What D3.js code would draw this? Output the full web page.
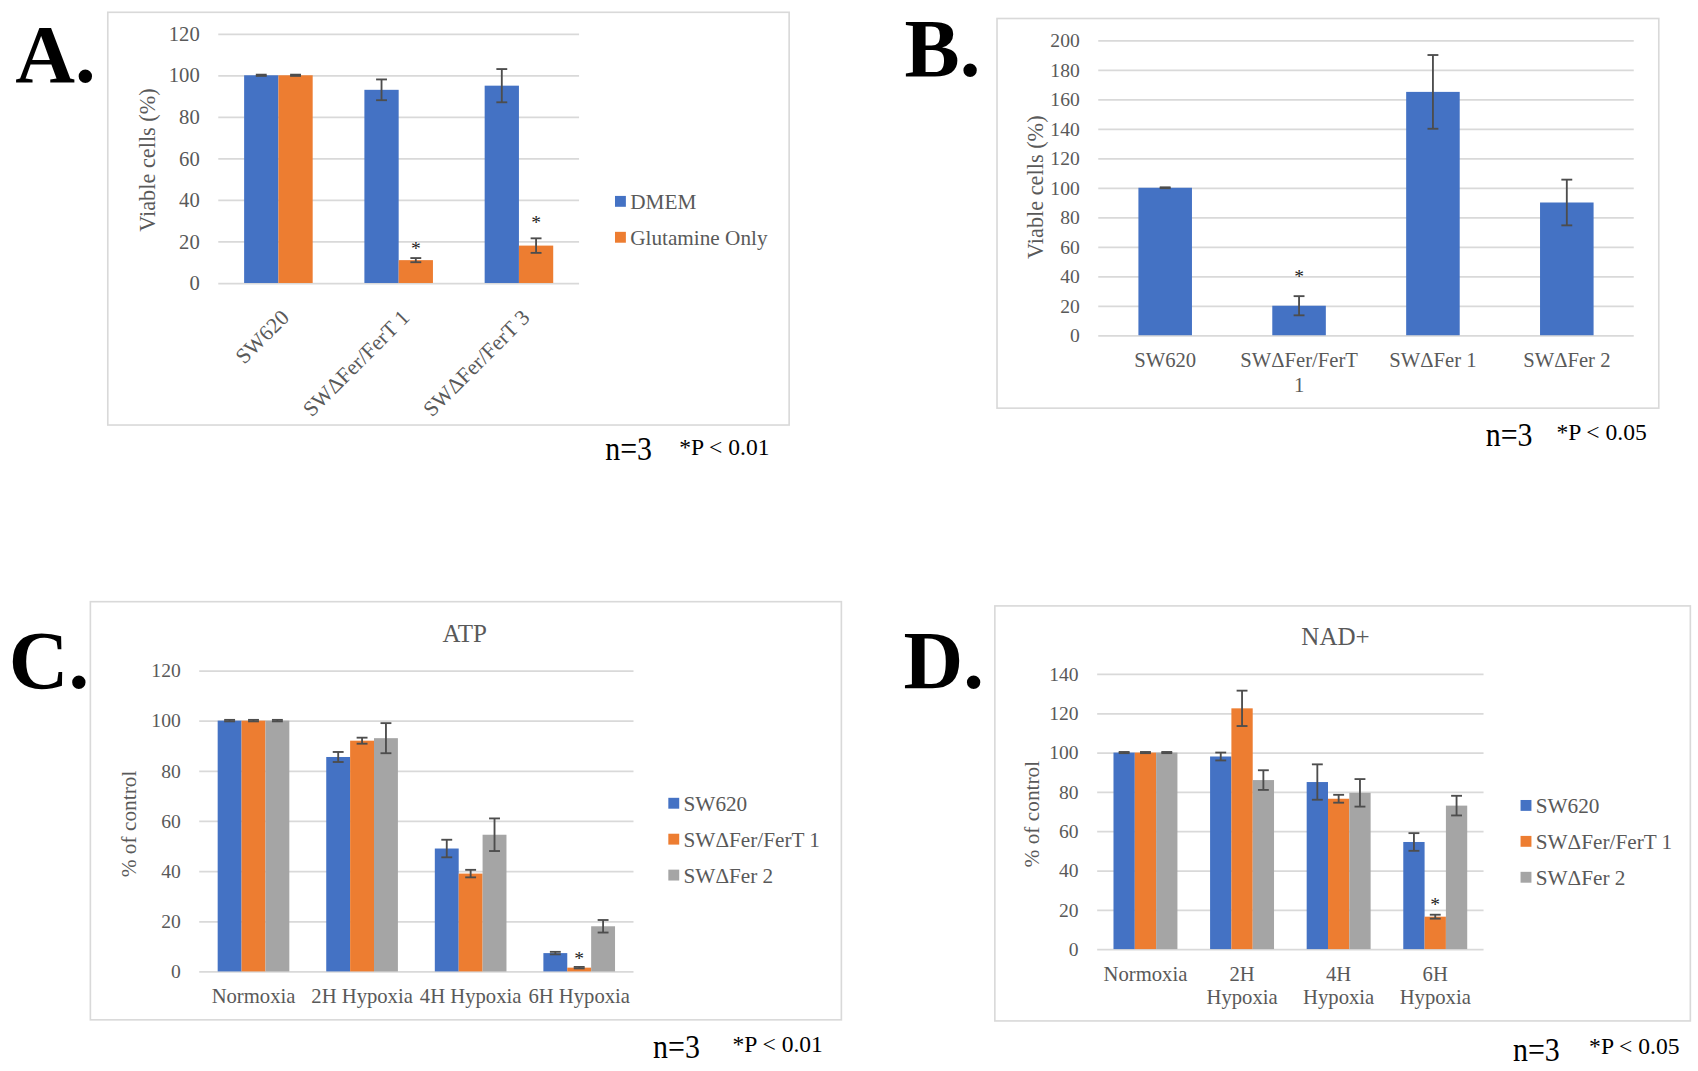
<!DOCTYPE html>
<html>
<head>
<meta charset="utf-8">
<script src="https://cdn.jsdelivr.net/npm/d3@7"></script>
<style>
  body { margin: 0; background: #fff; }
  text { font-family: "Liberation Serif", "Times New Roman", serif; }
</style>
</head>
<body>
<div id="fig"></div>
<script>
// ---- data ----
var catsA = ["SW620", "SW\u0394Fer/FerT 1", "SW\u0394Fer/FerT 3"];
var seriesA = ["DMEM", "Glutamine Only"];
var dmemA = [100, 93, 95];
var dmemErrA = [0.3, 5, 8];
var glnA = [100, 11, 18];
var glnErrA = [0.3, 1, 3.5];
var ticksA = [0, 20, 40, 60, 80, 100, 120];

var catsB = ["SW620", "SW\u0394Fer/FerT 1", "SW\u0394Fer 1", "SW\u0394Fer 2"];
var valsB = [100, 20, 165, 90];
var errB = [0.3, 6.5, 25, 15.5];
var ticksB = [0, 20, 40, 60, 80, 100, 120, 140, 160, 180, 200];

var catsCD = ["Normoxia", "2H Hypoxia", "4H Hypoxia", "6H Hypoxia"];
var seriesCD = ["SW620", "SW\u0394Fer/FerT 1", "SW\u0394Fer 2"];
var atpSW = [100, 85.5, 49, 7.3];
var atpSWErr = [0.3, 2, 3.5, 0.5];
var atpFerT = [100, 92, 39, 1.5];
var atpFerTErr = [0.3, 1.2, 1.5, 0.3];
var atpFer2 = [100, 93, 54.5, 18];
var atpFer2Err = [0.3, 6, 6.5, 2.5];
var ticksC = [0, 20, 40, 60, 80, 100, 120];

var nadSW = [100, 98, 85, 54.5];
var nadSWErr = [0.3, 2, 9, 4.5];
var nadFerT = [100, 122.5, 76.5, 16.5];
var nadFerTErr = [0.3, 9, 2, 1];
var nadFer2 = [100, 86, 79.5, 73];
var nadFer2Err = [0.3, 5, 7, 5];
var ticksD = [0, 20, 40, 60, 80, 100, 120, 140];

var colors = ["#4472C4", "#ED7D31", "#A5A5A5"];
var grey = "#595959";

// one row per category, one entry per series
function makeRows(cats, vals, errs) {
  return cats.map(function(c, i) {
    return { cat: c, bars: vals.map(function(v, s) { return { s: s, v: v[i], e: errs[s][i] }; }) };
  });
}

var svg = d3.select("#fig").append("svg")
  .attr("width", 1698).attr("height", 1071)
  .attr("viewBox", "0 0 1560 984");

function panel(p) {
  var g = svg.append("g");

  // outer frame
  g.append("rect")
    .attr("x", p.box[0]).attr("y", p.box[1])
    .attr("width", p.box[2] - p.box[0]).attr("height", p.box[3] - p.box[1])
    .attr("fill", "none").attr("stroke", "#d9d9d9").attr("stroke-width", 1.5);

  // big letter
  g.append("text").attr("x", p.letter[0]).attr("y", p.letter[1])
    .attr("font-size", 76).attr("font-weight", "bold").attr("fill", "#000")
    .text(p.letterText);

  var x = d3.scaleBand().domain(p.rows.map(function(d) { return d.cat; }))
    .range([p.plot[0], p.plot[1]])
    .paddingInner(p.pad).paddingOuter(p.pad / 2);
  var nS = p.rows[0].bars.length;
  var xs = d3.scaleBand().domain(d3.range(nS)).range([0, x.bandwidth()]);
  var y = d3.scaleLinear().domain([0, p.ymax]).range([p.plot[3], p.plot[2]]);

  // gridlines + tick labels
  var yAxis = g.append("g").attr("transform", "translate(" + p.plot[0] + ",0)")
    .call(d3.axisLeft(y).tickValues(p.ticks).tickSize(-(p.plot[1] - p.plot[0])).tickPadding(17));
  yAxis.attr("font-family", null).attr("font-size", null);
  yAxis.select(".domain").remove();
  yAxis.selectAll(".tick line").attr("stroke", "#d9d9d9").attr("stroke-width", 1.6);
  yAxis.selectAll(".tick text").attr("fill", grey).attr("font-size", p.tickSize);

  // bars
  var grp = g.append("g").selectAll("g").data(p.rows).enter().append("g")
    .attr("transform", function(d) { return "translate(" + x(d.cat) + ",0)"; });
  grp.selectAll("rect").data(function(d) { return d.bars; }).enter().append("rect")
    .attr("x", function(d) { return xs(d.s); })
    .attr("y", function(d) { return y(d.v); })
    .attr("width", xs.bandwidth())
    .attr("height", function(d) { return y(0) - y(d.v); })
    .attr("fill", function(d) { return colors[d.s]; });

  // error bars
  var eb = grp.selectAll("g.err").data(function(d) { return d.bars; }).enter().append("g")
    .attr("class", "err")
    .attr("stroke", "#4d4d4d").attr("stroke-width", 1.7);
  function cx(d) { return xs(d.s) + xs.bandwidth() / 2; }
  eb.append("line")
    .attr("x1", cx).attr("x2", cx)
    .attr("y1", function(d) { return y(d.v - d.e); })
    .attr("y2", function(d) { return y(d.v + d.e); });
  [1, -1].forEach(function(sg) {
    eb.append("line")
      .attr("x1", function(d) { return cx(d) - 5; })
      .attr("x2", function(d) { return cx(d) + 5; })
      .attr("y1", function(d) { return y(d.v + sg * d.e); })
      .attr("y2", function(d) { return y(d.v + sg * d.e); });
  });

  // significance stars
  p.stars.forEach(function(st) {
    var row = p.rows[st[0]], b = row.bars[st[1]];
    g.append("text")
      .attr("x", x(row.cat) + xs(st[1]) + xs.bandwidth() / 2)
      .attr("y", y(b.v + b.e) - st[2] + 9)
      .attr("text-anchor", "middle").attr("font-size", 18).attr("fill", "#222")
      .text("*");
  });

  // category labels
  var lab = g.append("g").selectAll("text").data(p.rows).enter().append("text")
    .attr("fill", grey).attr("font-size", p.labSize);
  if (p.rotate) {
    lab.attr("text-anchor", "end")
      .attr("transform", function(d) {
        return "translate(" + (x(d.cat) + x.bandwidth() / 2 + 11) + "," + (p.plot[3] + 33) + ") rotate(-45)";
      })
      .text(function(d) { return d.cat; });
  } else {
    lab.attr("text-anchor", "middle")
      .attr("transform", function(d) { return "translate(" + (x(d.cat) + x.bandwidth() / 2) + "," + (p.plot[3] + 29) + ")"; })
      .each(function(d, i) {
        var t = d3.select(this);
        p.labelLines[i].forEach(function(l, k) {
          t.append("tspan").attr("x", 0).attr("dy", k === 0 ? 0 : p.lineGap).text(l);
        });
      });
  }

  // y title
  g.append("text")
    .attr("transform", "translate(" + p.ytitle[0] + "," + p.ytitle[1] + ") rotate(-90)")
    .attr("text-anchor", "middle").attr("fill", grey).attr("font-size", p.ytitle[2])
    .text(p.ytitleText);

  // chart title
  if (p.title) {
    g.append("text").attr("x", p.title[0]).attr("y", p.title[1])
      .attr("text-anchor", "middle").attr("fill", grey).attr("font-size", 23)
      .text(p.titleText);
  }

  // legend
  if (p.legend) {
    p.legend.names.forEach(function(n, i) {
      var ly = p.legend.y + i * 33;
      g.append("rect").attr("x", p.legend.x).attr("y", ly - 5)
        .attr("width", 10).attr("height", 10).attr("fill", colors[i]);
      g.append("text").attr("x", p.legend.x + 14).attr("y", ly + 7)
        .attr("fill", grey).attr("font-size", 19.5).text(n);
    });
  }

  // n=3 and P note
  g.append("text").attr("x", p.note[0]).attr("y", p.note[1])
    .attr("font-size", 31).attr("fill", "#000")
    .attr("textLength", 43).attr("lengthAdjust", "spacingAndGlyphs")
    .text("n=3");
  g.append("text").attr("x", p.note[2]).attr("y", p.note[3])
    .attr("font-size", 21).attr("fill", "#000")
    .attr("textLength", 83).attr("lengthAdjust", "spacingAndGlyphs")
    .text(p.pText);
}

panel({
  letterText: "A.", letter: [14, 75],
  box: [99, 11.3, 725, 390.5],
  plot: [200.5, 532, 31, 260], ymax: 120, ticks: ticksA, pad: 0.43, tickSize: 19,
  rows: makeRows(catsA, [dmemA, glnA], [dmemErrA, glnErrA]),
  stars: [[1, 1, 12], [2, 1, 18]],
  rotate: true, labSize: 20,
  ytitle: [142, 147, 20.5], ytitleText: "Viable cells (%)",
  legend: { x: 565, y: 185, names: seriesA },
  note: [556, 422.6, 624, 418], pText: "*P < 0.01"
});

panel({
  letterText: "B.", letter: [831, 70],
  box: [916, 17, 1524, 375],
  plot: [1009, 1501, 37, 308], ymax: 200, ticks: ticksB, pad: 0.6, tickSize: 18,
  rows: makeRows(catsB, [valsB], [errB]),
  stars: [[1, 0, 21]],
  labSize: 19, lineGap: 23,
  labelLines: [["SW620"], ["SW\u0394Fer/FerT", "1"], ["SW\u0394Fer 1"], ["SW\u0394Fer 2"]],
  ytitle: [958, 172, 20.5], ytitleText: "Viable cells (%)",
  note: [1365, 409.6, 1430, 404], pText: "*P < 0.05"
});

panel({
  letterText: "C.", letter: [8, 632],
  box: [83, 552.8, 773, 937],
  plot: [183, 582, 616, 892.5], ymax: 120, ticks: ticksC, pad: 0.34, tickSize: 18,
  rows: makeRows(catsCD, [atpSW, atpFerT, atpFer2], [atpSWErr, atpFerTErr, atpFer2Err]),
  stars: [[3, 1, 11]],
  labSize: 19, lineGap: 21,
  labelLines: catsCD.map(function(c) { return [c]; }),
  ytitle: [125, 757, 19.6], ytitleText: "% of control",
  title: [427, 589.5], titleText: "ATP",
  legend: { x: 614, y: 738, names: seriesCD },
  note: [600, 971.6, 673, 967], pText: "*P < 0.01"
});

panel({
  letterText: "D.", letter: [830, 632],
  box: [914, 556.7, 1553, 938],
  plot: [1008, 1363, 619.2, 872], ymax: 140, ticks: ticksD, pad: 0.338, tickSize: 18,
  rows: makeRows(catsCD, [nadSW, nadFerT, nadFer2], [nadSWErr, nadFerTErr, nadFer2Err]),
  stars: [[3, 1, 12]],
  labSize: 19, lineGap: 21,
  labelLines: [["Normoxia"], ["2H", "Hypoxia"], ["4H", "Hypoxia"], ["6H", "Hypoxia"]],
  ytitle: [955, 748, 19.6], ytitleText: "% of control",
  title: [1227, 592.6], titleText: "NAD+",
  legend: { x: 1397, y: 740, names: seriesCD },
  note: [1390, 974.6, 1460, 968], pText: "*P < 0.05"
});
</script>
</body>
</html>
